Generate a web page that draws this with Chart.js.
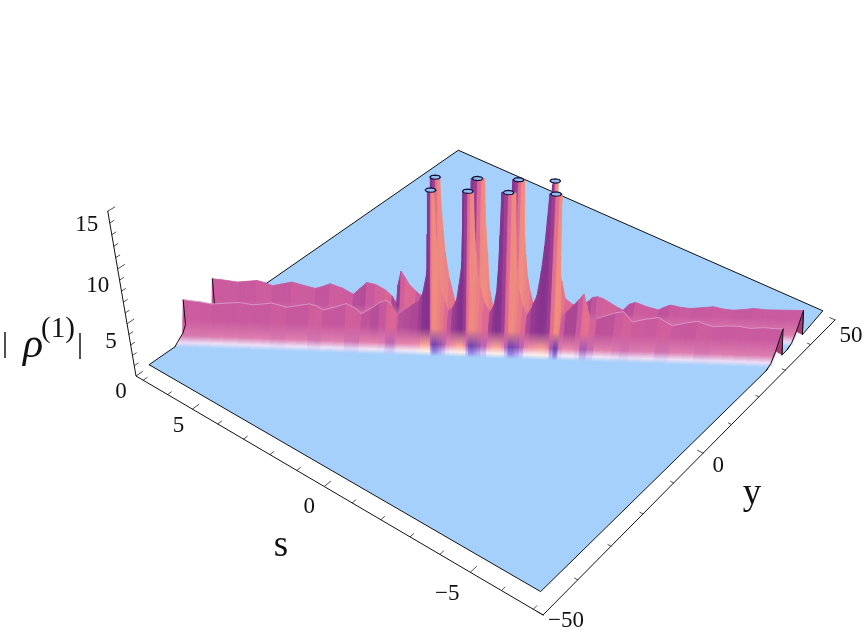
<!DOCTYPE html>
<html>
<head>
<meta charset="utf-8">
<title>rho surface</title>
<script src="https://cdn.jsdelivr.net/npm/chart.js@4/dist/chart.umd.js"></script>
<style>
  html, body { margin: 0; background: #fff; }
  canvas { display: block; }
</style>
</head>
<body>
<canvas id="myChart" width="864" height="637"></canvas>
<script>
// values: crest height along each ridge, by s
var frontS = [7.0, 6.84, 6.61, 6.33, 6.02, 5.67, 5.36, 5.12, 4.91, 4.72, 4.56, 4.30, 4.02, 3.85, 3.71, 3.43, 3.15, 2.96, 2.80, 2.56, 2.35, 2.18, 2.09, 1.97,
  1.92, 1.78, 1.62, 1.43, 1.34, 1.22, 1.19, 1.155, 1.125, 1.085, 1.05, 1.015, .995, .955, .90, .83, .75,
  .65, .56, .49, .41, .385, .365, .32, .255, .195, .135, .115, .085, .06, .0, -.08, -.22,
  -.31, -.38, -.43, -.46, -.50, -.57, -.65, -.73, -.80, -.82, -.85, -.90, -.99, -1.09,
  -1.20, -1.32, -1.41, -1.475, -1.53, -1.565, -1.625, -1.705, -1.795, -1.835, -1.845, -1.855, -1.87, -1.90,
  -2.00, -2.15, -2.29, -2.41, -2.48, -2.57, -2.73, -2.95, -3.16, -3.35, -3.56, -3.86, -4.17, -4.33, -4.50, -4.80,
  -5.09, -5.28, -5.46, -5.75, -6.03, -6.33, -6.64, -6.87, -7.08];
var frontZ = [4.63, 4.55, 4.47, 4.30, 4.41, 4.53, 4.36, 4.46, 4.58, 4.40, 4.22, 4.42, 4.63, 4.45, 4.08, 4.39, 4.77, 4.41, 3.86, 4.43, 5.0, 5.2, 4.85, 3.9,
  3.9, 4.3, 4.77, 5.26, 6.0, 8.04, 11.37, 15.27, 17, 17.4, 17, 15.3, 10.93, 8.06, 6.12, 5.19, 4.43,
  4.73, 5.39, 6.87, 8.97, 12.27, 15.28, 17, 17.4, 17, 15.3, 11.66, 9.7, 8.08, 6.69, 5.39, 4.4,
  4.98, 6.3, 8.8, 11.48, 15.2, 17, 17.4, 17, 15.3, 10.77, 8.4, 6.56, 5.1, 4.18,
  4.93, 6.15, 8.4, 10.64, 13.28, 15.3, 17, 17.4, 17, 15.4, 9.8, 6.12, 4.62, 4.14,
  4.62, 5.2, 5.85, 6.42, 5.4, 3.98, 4.18, 4.47, 4.77, 4.88, 3.94, 4.24, 4.45, 4.08, 3.71, 4.02,
  4.22, 3.94, 3.75, 3.86, 3.88, 3.71, 3.83, 3.77, 3.77];
var backS = [7.0, 6.76, 6.41, 6.17, 5.93, 5.74, 5.57, 5.33, 5.09, 4.83, 4.54, 4.37, 4.18, 3.90, 3.64, 3.47, 3.30, 3.09, 2.87, 2.71, 2.61, 2.56, 2.47, 2.37, 2.28, 2.13, 1.99,
  1.90, 1.78, 1.73, 1.71, 1.66, 1.60, 1.55, 1.50, 1.48, 1.45, 1.42, 1.33, 1.20,
  1.04, .90, .82, .78, .72, .64, .55, .48, .46, .42, .40, .37, .30,
  .18, .06, -.06, -.12, -.16, -.23, -.29, -.36, -.42, -.43, -.47, -.52, -.59, -.66,
  -.83, -.97, -1.04, -1.06, -1.09, -1.12, -1.15, -1.18, -1.19, -1.20, -1.33, -1.42, -1.59, -1.78,
  -1.97, -2.07, -2.19, -2.33, -2.50, -2.66, -2.81, -2.95, -3.09, -3.36, -3.65, -3.79, -3.93, -4.17, -4.41, -4.67, -4.95, -5.19, -5.43, -5.67, -5.91, -6.20, -6.48, -6.79, -7.08];
var backZ = [4.74, 4.66, 4.50, 4.60, 4.71, 4.53, 4.26, 4.47, 4.67, 4.40, 4.14, 4.34, 4.63, 4.27, 3.70, 4.29, 4.87, 4.70, 4.23, 3.66, 2.90, 4.72, 6.05, 5.40, 4.76, 4.18, 3.71,
  4.67, 8.22, 12.27, 14.6, 16.4, 16.8, 16.4, 14.7, 11.85, 9.88, 7.97, 5.47, 3.28,
  3.96, 6.43, 11.44, 14.7, 16.4, 16.8, 16.4, 14.7, 10.38, 7.84, 5.79, 4.38, 2.94,
  3.62, 5.06, 7.86, 11.49, 14.6, 16.4, 16.8, 16.4, 14.6, 10.45, 7.93, 5.88, 4.47, 3.42,
  4.18, 7.46, 11.55, 14.25, 16.4, 16.8, 16.4, 14.4, 13.47, 7.47, 5.6, 4.0, 3.45, 3.26,
  3.76, 4.15, 4.25, 4.06, 3.69, 3.32, 3.03, 3.62, 3.83, 3.46, 3.18, 3.47, 3.68, 3.50, 3.42, 3.53, 3.66, 3.47, 3.39, 3.49, 3.62, 3.53, 3.55, 3.57, 3.58];
var frontCapS = [1.085, .255, -.65, -1.705];
var backCapS = [1.60, .64, -.29, -1.12];
var sTicks = [7, 6, 5, 4, 3, 2, 1, 0, -1, -2, -3, -4, -5, -6, -7];
var yTicks = [-50, -40, -30, -20, -10, 0, 10, 20, 30, 40, 50];
var zTicks = [0, 1, 2, 3, 4, 5, 6, 7, 8, 9, 10, 11, 12, 13, 14, 15];
var sLabels = [5, 0, -5];
var yLabels = [50, 0, -50];
var zLabels = [15, 10, 5, 0];

// box and view, fitted to the corners of the picture
var sMax = 7.3, yMax = 50, floorS = 7, floorY = 48, floorZ = 1;
var frontCapZ = 15.2, backCapZ = 14.6;
var ridgeSlope = -4.77, frontOffset = -4, backOffset = 4;
var H = { a: 331.2, b: 405.4, c: 136, d: 153.1, e: -194.8, f: 376, g: -0.1396, h: 0.1846 };
var zPull = -0.0048, vanish = { x: 500, y: 2500 };

var floorColor = '#a5d0fb';
var upperRamp = ['#f2907c', '#e06a92', '#c95a9f', '#a03f92', '#7a2e8c'];
var lowerRamp = ['#6b3fae', '#b35fb4', '#dc7cae', '#eb88a8', '#f9a88f'];
var baseRamp = ['#8a78e0', '#cdbdf0', '#ecdef6', '#f8eaf4', '#ffefe0'];

function project(s, y, z) {
  var u = (sMax - s) / (2 * sMax), v = (y + yMax) / (2 * yMax);
  var w = 1 + H.g * u + H.h * v + zPull * z;
  return {
    x: (H.a * u + H.b * v + H.c + zPull * z * vanish.x) / w,
    y: (H.d * u + H.e * v + H.f + zPull * z * vanish.y) / w
  };
}

function hex(c) {
  return [parseInt(c.slice(1, 3), 16), parseInt(c.slice(3, 5), 16), parseInt(c.slice(5, 7), 16)];
}
function rampColor(ramp, q) {
  var p = (q + 1) * 2, i = Math.min(3, Math.floor(p)), f = p - i;
  var a = hex(ramp[i]), b = hex(ramp[i + 1]);
  return 'rgb(' + [0, 1, 2].map(function (k) { return Math.round(a[k] + (b[k] - a[k]) * f); }).join(',') + ')';
}

// vertical shade of one strip, worked out in pixels from the scales
function stripGradient(chart, top, bottom, q) {
  var yScale = chart.scales.y;
  if (!yScale) return rampColor(upperRamp, q);
  var t = yScale.getPixelForValue(top.y), b = yScale.getPixelForValue(bottom.y);
  if (!isFinite(t) || !isFinite(b)) return rampColor(upperRamp, q);
  var span = Math.max(b - t, 1);
  var g = chart.ctx.createLinearGradient(0, b, 0, t);
  g.addColorStop(0, floorColor);
  g.addColorStop(Math.min(5 / span, 0.2), rampColor(baseRamp, q));
  g.addColorStop(Math.min(12 / span, 0.4), rampColor(lowerRamp, q));
  g.addColorStop(Math.min(28 / span, 0.8), rampColor(upperRamp, q));
  g.addColorStop(1, rampColor(upperRamp, q));
  return g;
}

var layers = [];
function addLine(points, color, width) {
  layers.push({ data: points, borderColor: color, borderWidth: width, fill: false });
}
function addShape(points, fillColor, edgeColor, width) {
  layers.push({ data: points, backgroundColor: fillColor, borderColor: edgeColor || fillColor, borderWidth: width || 0, fill: 'shape' });
}

function addRidge(sVals, zVals, offset, capZ) {
  var yc = function (s) { return offset + ridgeSlope * s; };
  var slopes = [];
  for (var k = 0; k < sVals.length - 1; k++) {
    slopes.push((zVals[k + 1] - zVals[k]) / ((sVals[k] - sVals[k + 1]) * 43));
  }
  for (var i = 0; i < sVals.length - 1; i++) {
    var s0 = sVals[i], s1 = sVals[i + 1];
    var m = 0.25 * slopes[Math.max(i - 1, 0)] + 0.5 * slopes[i] + 0.25 * slopes[Math.min(i + 1, slopes.length - 1)];
    var q = m / (Math.abs(m) + 0.18);
    var top0 = project(s0, yc(s0), Math.min(zVals[i], capZ));
    var top1 = project(s1, yc(s1), Math.min(zVals[i + 1], capZ));
    var bot0 = project(Math.max(s0 - 0.2, -7.08), yc(s0) - 3, floorZ);
    var bot1 = project(Math.max(s1 - 0.2, -7.08), yc(s1) - 3, floorZ);
    (function (t, b, shade) {
      var paint = function (ctx) { return stripGradient(ctx.chart, t, b, shade); };
      addShape([bot0, top0, top1, bot1], paint, paint, 0.8);
    })(top0.y < top1.y ? top0 : top1, bot0, q);
  }
}

// profile where a ridge meets the edge of the sheet
var leftDy = [0, -0.3, -1.25, -2.8, -3.7], leftFrac = [1, 0.36, 0.2, 0.08, 0];
var rightDy = [0, -2, -3.4, -5], rightFrac = [1, 0.4, 0.1, 0];

function edgeProfile(s, yc, crest, dys, fracs) {
  return dys.map(function (d, i) { return project(s, yc + d, floorZ + (crest - floorZ) * fracs[i]); });
}

function addCaps(capS, offset, capZ) {
  var along = [.12, .085, 0, -.085, -.12, -.085, 0, .085, .12];
  var across = [0, .22, .3, .22, 0, -.22, -.3, -.22, 0];
  capS.forEach(function (s0) {
    var ring = along.map(function (a, i) {
      return project(s0 + a + across[i] * 0.2, offset + ridgeSlope * (s0 + a) + across[i] * 1.9, capZ);
    });
    addShape(ring, '#94bcee', '#14143c', 1.2);
  });
}

function addEnds(sVals, zVals, offset) {
  var n = sVals.length - 1;
  var ycL = offset + ridgeSlope * sVals[0], ycR = offset + ridgeSlope * sVals[n];
  var left = edgeProfile(sVals[0], ycL, zVals[0], leftDy, leftFrac);
  var right = edgeProfile(sVals[n], ycR, zVals[n], rightDy, rightFrac);
  var leftBase = project(sVals[0] - 0.2, ycL - 3, floorZ);
  var paint = function (ctx) { return stripGradient(ctx.chart, left[0], leftBase, 0); };
  addShape(left.concat([leftBase]), paint);
  addLine(left, '#111', 1);
  addShape([right[0], right[1], project(sVals[n], ycR + 1, floorZ)], '#a33c78');
  addLine(right, '#111', 1);
  addLine([right[0], project(sVals[n], ycR + 1, floorZ)], '#111', 1);
}

// floor sheet, its near edge follows the ridge profiles at s = -7
(function () {
  var f0 = -7.08;
  var fy = frontOffset + ridgeSlope * f0, by = backOffset + ridgeSlope * f0;
  var frontEdge = edgeProfile(f0, fy, frontZ[frontZ.length - 1], rightDy, rightFrac).reverse();
  var backEdge = edgeProfile(f0, by, backZ[backZ.length - 1], rightDy, rightFrac).reverse();
  var pts = [project(floorS, -floorY, floorZ), project(-floorS, -floorY, floorZ)]
    .concat(frontEdge, [project(f0, fy + 1, floorZ)], backEdge, [project(f0, by + 1, floorZ)])
    .concat([project(-floorS, floorY, floorZ), project(floorS, floorY, floorZ), project(floorS, -floorY, floorZ)]);
  addShape(pts, floorColor, '#111', 1);
})();

addRidge(backS, backZ, backOffset, backCapZ);
addCaps(backCapS, backOffset, backCapZ);
addEnds(backS, backZ, backOffset);
addRidge(frontS, frontZ, frontOffset, frontCapZ);
addCaps(frontCapS, frontOffset, frontCapZ);
addEnds(frontS, frontZ, frontOffset);

// thin bright crest on the flat parts of the front ridge
function crestPoints(test) {
  var pts = [];
  frontS.forEach(function (s, i) {
    if (test(s)) pts.push(project(s, frontOffset + ridgeSlope * s, frontZ[i]));
  });
  return pts;
}
addLine(crestPoints(function (s) { return s > 2.0; }), 'rgba(232,214,246,0.45)', 1);
addLine(crestPoints(function (s) { return s < -2.6; }), 'rgba(232,214,246,0.45)', 1);

// axes
addLine([project(sMax, -yMax, 0), project(-sMax, -yMax, 0)], '#111', 1);
addLine([project(-sMax, -yMax, 0), project(-sMax, yMax, 0)], '#111', 1);
addLine([project(sMax, -yMax, 0), project(sMax, -yMax, 15)], '#111', 1);
sTicks.forEach(function (t) {
  var len = sLabels.indexOf(t) >= 0 ? 1.7 : 1;
  addLine([project(t, -yMax, 0), project(t, -yMax + len, 0)], '#222', 0.8);
});
yTicks.forEach(function (t) {
  var len = yLabels.indexOf(t) >= 0 ? 0.18 : 0.1;
  addLine([project(-sMax, t, 0), project(-sMax + len, t, 0)], '#222', 0.8);
});
zTicks.forEach(function (t) {
  var len = zLabels.indexOf(t) >= 0 ? 1.7 : 1;
  addLine([project(sMax, -yMax, t), project(sMax, -yMax + len, t)], '#222', 0.8);
});

var tickText = [
  { text: '5', p: project(5, -yMax, 0), dx: -14, dy: 17 },
  { text: '0', p: project(0, -yMax, 0), dx: -15, dy: 20 },
  { text: '\u22125', p: project(-5, -yMax, 0), dx: -23, dy: 22 },
  { text: '50', p: project(-sMax, 50, 0), dx: 16, dy: 16 },
  { text: '0', p: project(-sMax, 0, 0), dx: 15, dy: 13 },
  { text: '\u221250', p: project(-sMax, -50, 0), dx: 23, dy: 6 },
  { text: '15', p: project(sMax, -yMax, 15), dx: -21, dy: 14 },
  { text: '10', p: project(sMax, -yMax, 10), dx: -20, dy: 17 },
  { text: '5', p: project(sMax, -yMax, 5), dx: -16, dy: 18 },
  { text: '0', p: project(sMax, -yMax, 0), dx: -15, dy: 16 }
];

var axisText = {
  id: 'axisText',
  afterDraw: function (chart) {
    var c = chart.ctx, xs = chart.scales.x, ys = chart.scales.y;
    c.save();
    c.fillStyle = '#111';
    c.textAlign = 'center';
    c.textBaseline = 'middle';
    c.font = '23px "Liberation Serif"';
    tickText.forEach(function (t) {
      c.fillText(t.text, xs.getPixelForValue(t.p.x) + t.dx, ys.getPixelForValue(t.p.y) + t.dy);
    });
    c.font = '37px "Liberation Serif"';
    c.fillText('s', 281, 546);
    c.fillText('y', 752, 494);
    c.font = '30px "Liberation Serif"';
    c.fillText('|', 5, 344);
    c.fillText('|', 80, 345);
    c.font = 'italic 42px "Liberation Serif"';
    c.fillText('\u03c1', 33, 346);
    c.font = '29px "Liberation Serif"';
    c.fillText('(1)', 58, 329);
    c.restore();
  }
};

// first dataset is painted last, so flip the paint order
layers.forEach(function (d, i) { d.order = layers.length - i; });

var myChart = new Chart(document.getElementById('myChart').getContext('2d'), {
  type: 'line',
  data: { datasets: layers },
  plugins: [axisText],
  options: {
    responsive: false,
    animation: false,
    events: [],
    layout: { padding: 0 },
    elements: { point: { radius: 0 }, line: { tension: 0, borderCapStyle: 'round', borderJoinStyle: 'round' } },
    plugins: { legend: { display: false }, tooltip: { enabled: false }, title: { display: false } },
    scales: {
      x: { type: 'linear', display: false, min: 0, max: 864 },
      y: { type: 'linear', display: false, min: 0, max: 637, reverse: true }
    }
  }
});
</script>
</body>
</html>
